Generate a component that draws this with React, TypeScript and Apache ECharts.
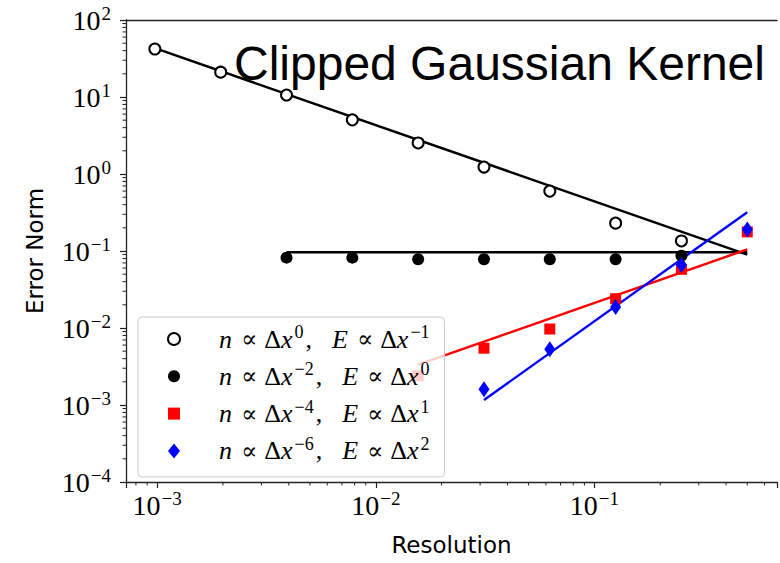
import React, { useEffect, useRef } from "react";
import * as echarts from "echarts";

// Resolutions (dx = 2^-10 ... 2^-1)
const resolution = [0.0009765625, 0.001953125, 0.00390625, 0.0078125, 0.015625, 0.03125, 0.0625, 0.125, 0.25, 0.5];

// n ∝ dx^0 (open circles), starts at 2^-10
const errOpen = [42.0, 21.0, 10.6, 5.05, 2.53, 1.23, 0.6, 0.23, 0.135];
// n ∝ dx^-2 (filled circles), starts at 2^-8
const errFilled = [0.082, 0.082, 0.078, 0.078, 0.078, 0.078, 0.087];
// n ∝ dx^-4 (red squares), starts at 2^-6
const errRed = [0.0024, 0.00547, 0.0097, 0.024, 0.0578, 0.177];
// n ∝ dx^-6 (blue diamonds), starts at 2^-5
const errBlue = [0.0016, 0.00531, 0.0188, 0.0657, 0.19];

// Fitted reference lines (end points)
const fitOpen = [[0.0009765625, 43.1], [0.5, 0.09]];
const fitFilled = [[0.00390625, 0.0962], [0.5, 0.0962]];
const fitRed = [[0.015625, 0.00334], [0.5, 0.105]];
const fitBlue = [[0.03125, 0.00116], [0.5, 0.319]];

// Tick labels (exponents of 10)
const xTickExponents = [-3, -2, -1];
const yTickExponents = [-4, -3, -2, -1, 0, 1, 2];
const xMinorTicks = [0.0008, 0.0009, 0.002, 0.003, 0.004, 0.005, 0.006, 0.007, 0.008, 0.009, 0.02, 0.03, 0.04, 0.05, 0.06, 0.07, 0.08, 0.09, 0.2, 0.3, 0.4, 0.5, 0.6];
const yMinorMultipliers = [2, 3, 4, 5, 6, 7, 8, 9];

const S_OPEN = "open";
const S_FILLED = "filled";
const S_RED = "red";
const S_BLUE = "blue";
const legendExponents: Record<string, [string, string]> = {
  open: ["0", "−1"],
  filled: ["−2", "0"],
  red: ["−4", "1"],
  blue: ["−6", "2"],
};

const TITLE = "Clipped Gaussian Kernel";
const X_NAME = "Resolution";
const Y_NAME = "Error Norm";

const X_MIN = Math.pow(10, -3.1423);
const X_MAX = Math.pow(10, -3.1423 + 655 / 220);
const Y_MIN = 1e-4;
const Y_MAX = 1e2;

const SERIF = '"Liberation Serif", "DejaVu Serif", serif';
const SANS = '"DejaVu Sans", sans-serif';

function pairs(xs: number[], ys: number[], offset: number) {
  return ys.map((y, i) => [xs[i + offset], y]);
}

function powLabel(exps: number[]) {
  return (v: number) => {
    const l = Math.log10(v);
    const e = Math.round(l);
    if (Math.abs(l - e) > 1e-6 || exps.indexOf(e) < 0) return "";
    return `{b|10}{s|${e < 0 ? "−" : ""}${Math.abs(e)}}`;
  };
}

const tickRich = {
  b: { fontFamily: SERIF, fontSize: 28, color: "#000", lineHeight: 30 },
  s: { fontFamily: SERIF, fontSize: 19, color: "#000", lineHeight: 30, padding: [0, 0, 14, 1] },
};

export default function App() {
  const ref = useRef<HTMLDivElement>(null);
  useEffect(() => {
    const chart = echarts.init(ref.current!, null, { renderer: "svg" });
    const yMinor: number[] = [];
    for (let e = -4; e < 2; e++) yMinorMultipliers.forEach((m) => yMinor.push(m * Math.pow(10, e)));

    const axisLine = { show: true, lineStyle: { color: "#222", width: 1.3 } };
    const option: any = {
      animation: false,
      backgroundColor: "#fff",
      grid: { left: 126, top: 20, width: 655, height: 466, containLabel: false },
      xAxis: [
        {
          type: "log",
          logBase: 10,
          min: X_MIN,
          max: X_MAX,
          axisLine,
          axisTick: { show: true, length: 6, lineStyle: { color: "#222", width: 1.2 } },
          axisLabel: { formatter: powLabel(xTickExponents), margin: 8, rich: tickRich },
          splitLine: { show: false },
          name: X_NAME,
          nameLocation: "middle",
          nameGap: 50,
          nameTextStyle: { fontFamily: SANS, fontSize: 23, color: "#000", lineHeight: 26 },
        },
        {
          type: "log",
          logBase: 10,
          position: "top",
          min: X_MIN,
          max: X_MAX,
          axisLine,
          axisTick: { show: false },
          axisLabel: { show: false },
          splitLine: { show: false },
        },
      ],
      yAxis: [
        {
          type: "log",
          logBase: 10,
          min: Y_MIN,
          max: Y_MAX,
          axisLine,
          axisTick: { show: true, length: 6, lineStyle: { color: "#222", width: 1.2 } },
          axisLabel: { formatter: powLabel(yTickExponents), margin: 15, rich: tickRich },
          splitLine: { show: false },
          name: Y_NAME,
          nameLocation: "middle",
          nameGap: 78,
          nameRotate: 90,
          nameTextStyle: { fontFamily: SANS, fontSize: 23, color: "#000", lineHeight: 26 },
        },
      ],
      legend: {
        orient: "vertical",
        left: 138,
        top: 317,
        padding: [6, 15, 10, 29],
        itemGap: 5.3,
        itemWidth: 12,
        itemHeight: 15,
        backgroundColor: "rgba(255,255,255,0.8)",
        borderColor: "#cccccc",
        borderWidth: 1,
        borderRadius: 4,
        data: [
          { name: S_OPEN, icon: "emptyCircle" },
          { name: S_FILLED, icon: "circle" },
          { name: S_RED, icon: "path://M0,0H10V10H0Z" },
          { name: S_BLUE, icon: "path://M4,0L8,5L4,10L0,5Z" },
        ],
        formatter: (name: string) => {
          const [a, b] = legendExponents[name];
          return `{n|n}{p|∝}{r|Δ}{i|x}{s|${a}}{c|,}{i|E}{p|∝}{r|Δ}{i|x}{s|${b}}`;
        },
        textStyle: {
          rich: {
            n: { fontFamily: SERIF, fontStyle: "italic", fontSize: 26, color: "#000", lineHeight: 30, padding: [0, 0, 0, 34] },
            i: { fontFamily: SERIF, fontStyle: "italic", fontSize: 26, color: "#000", lineHeight: 30 },
            r: { fontFamily: SERIF, fontSize: 26, color: "#000", lineHeight: 30 },
            p: { fontFamily: '"DejaVu Serif", serif', fontSize: 24, color: "#000", lineHeight: 30, padding: [0, 7, 0, 9] },
            c: { fontFamily: SERIF, fontSize: 26, color: "#000", lineHeight: 30, padding: [0, 20, 0, 2] },
            s: { fontFamily: SERIF, fontSize: 18, color: "#000", lineHeight: 30, padding: [0, 0, 14, 2] },
          },
        },
      },
      graphic: [
        {
          type: "text",
          x: 234,
          y: 63,
          z: 100,
          style: {
            text: TITLE,
            fontFamily: '"Liberation Sans", Arial, sans-serif',
            fontSize: 48,
            fill: "#000",
            align: "left",
            verticalAlign: "middle",
          },
        },
      ],
      series: [
        {
          name: S_OPEN,
          type: "scatter",
          data: pairs(resolution, errOpen, 0),
          symbol: "emptyCircle",
          symbolSize: 11,
          itemStyle: { color: "#000", borderColor: "#000", borderWidth: 1.5, opacity: 1 },
          z: 3,
        },
        {
          name: "fitOpen",
          type: "line",
          data: fitOpen,
          symbol: "none",
          lineStyle: { color: "#000", width: 2.4 },
          z: 3,
        },
        {
          name: S_FILLED,
          type: "scatter",
          data: pairs(resolution, errFilled, 2),
          symbol: "circle",
          symbolSize: 12,
          itemStyle: { color: "#000", opacity: 1 },
          z: 3,
        },
        {
          name: "fitFilled",
          type: "line",
          data: fitFilled,
          symbol: "none",
          lineStyle: { color: "#000", width: 2.4 },
          z: 3,
        },
        {
          name: S_RED,
          type: "scatter",
          data: pairs(resolution, errRed, 4),
          symbol: "rect",
          symbolSize: 11,
          itemStyle: { color: "#ff0000", opacity: 1 },
          z: 3,
        },
        {
          name: "fitRed",
          type: "line",
          data: fitRed,
          symbol: "none",
          lineStyle: { color: "#ff0000", width: 2.4 },
          z: 3,
        },
        {
          name: S_BLUE,
          type: "scatter",
          data: pairs(resolution, errBlue, 5),
          symbol: "diamond",
          symbolSize: [11, 16],
          itemStyle: { color: "#0000ff", opacity: 1 },
          z: 3,
        },
        {
          name: "fitBlue",
          type: "line",
          data: fitBlue,
          symbol: "none",
          lineStyle: { color: "#0000ff", width: 2.4 },
          z: 3,
        },
        {
          name: "xMinor",
          type: "custom",
          silent: true,
          clip: false,
          data: xMinorTicks.map((v) => [v, Y_MIN]),
          renderItem: (_p: any, api: any) => {
            const pt = api.coord([api.value(0), api.value(1)]);
            return {
              type: "line",
              shape: { x1: pt[0], y1: pt[1], x2: pt[0], y2: pt[1] + 3.5 },
              style: { stroke: "#222", lineWidth: 1 },
            };
          },
        },
        {
          name: "yMinor",
          type: "custom",
          silent: true,
          clip: false,
          data: yMinor.map((v) => [X_MIN, v]),
          renderItem: (_p: any, api: any) => {
            const pt = api.coord([api.value(0), api.value(1)]);
            return {
              type: "line",
              shape: { x1: pt[0], y1: pt[1], x2: pt[0] - 3.5, y2: pt[1] },
              style: { stroke: "#222", lineWidth: 1 },
            };
          },
        },
      ],
    };
    chart.setOption(option);
    return () => chart.dispose();
  }, []);
  return (
    <div
      ref={ref}
      style={{ position: "absolute", left: 0, top: 0, width: 780, height: 563, background: "#fff" }}
    />
  );
}
